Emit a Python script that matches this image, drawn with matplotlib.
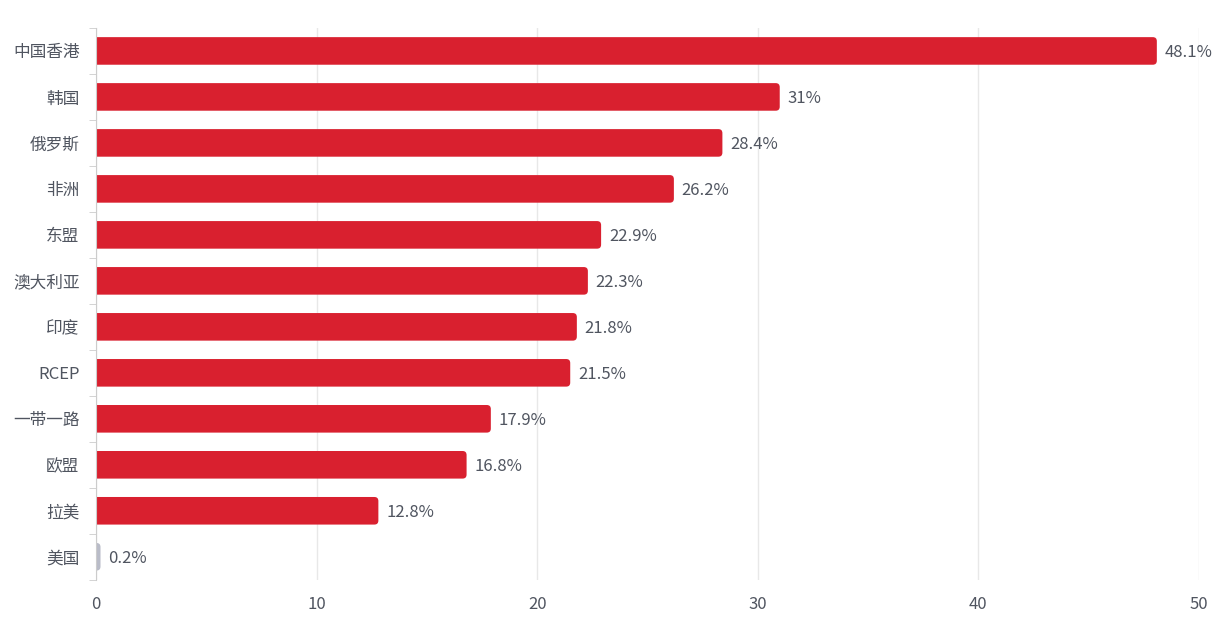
import matplotlib
matplotlib.use("Agg")
import matplotlib.pyplot as plt
from matplotlib.patches import FancyBboxPatch

plt.rcParams['font.family'] = ['Noto Sans CJK SC', 'DejaVu Sans']

regions = ['中国香港', '韩国', '俄罗斯', '非洲', '东盟', '澳大利亚', '印度',
           'RCEP', '一带一路', '欧盟', '拉美', '美国']
values = [48.1, 31, 28.4, 26.2, 22.9, 22.3, 21.8, 21.5, 17.9, 16.8, 12.8, 0.2]
labels = ['48.1%', '31%', '28.4%', '26.2%', '22.9%', '22.3%', '21.8%',
          '21.5%', '17.9%', '16.8%', '12.8%', '0.2%']

red = '#d9202f'
grey = '#b9bcc8'
txt = '#505560'

fig = plt.figure(figsize=(12.32, 6.35), dpi=100)
ax = fig.add_axes([0.078, 0.087, 0.895, 0.869])

n = len(regions)
ypos = list(range(n))[::-1]
h = 0.6
ax.set_xlim(0, 50)
ax.set_ylim(-0.5, n - 0.5)

# units per pixel, for the corner rounding
xu = 50 / (0.895 * 1232)
yu = n / (0.869 * 635)
r = 4 * xu
for y, v, lab in zip(ypos, values, labels):
    c = grey if v < 1 else red
    # start left of the axis so only the right-hand corners show as rounded
    ax.add_patch(FancyBboxPatch((-2 * r, y - h / 2), v + 2 * r, h,
                                boxstyle=f"round,pad=0,rounding_size={r}",
                                mutation_aspect=yu / xu, fc=c, ec='none', zorder=3))
    ax.text(v + 0.35, y - 0.04, lab, va='center', ha='left', fontsize=12, color=txt)

ax.set_yticks(ypos)
ax.set_yticklabels(regions, fontsize=12, color=txt)
ax.set_yticks([i - 0.5 for i in range(n + 1)], minor=True)
ax.tick_params(axis='y', which='major', length=0, pad=12)
ax.tick_params(axis='y', which='minor', length=5, color='#cccccc')
ax.set_xticks([0, 10, 20, 30, 40, 50])
ax.tick_params(axis='x', length=0, labelsize=12, labelcolor=txt, pad=12)
ax.grid(axis='x', color='#e8e8e8', lw=1, zorder=0)
for s in ['top', 'right', 'bottom']:
    ax.spines[s].set_visible(False)
ax.spines['left'].set_color('#cccccc')
ax.spines['left'].set_zorder(4)

fig.savefig('out.png', dpi=100)
